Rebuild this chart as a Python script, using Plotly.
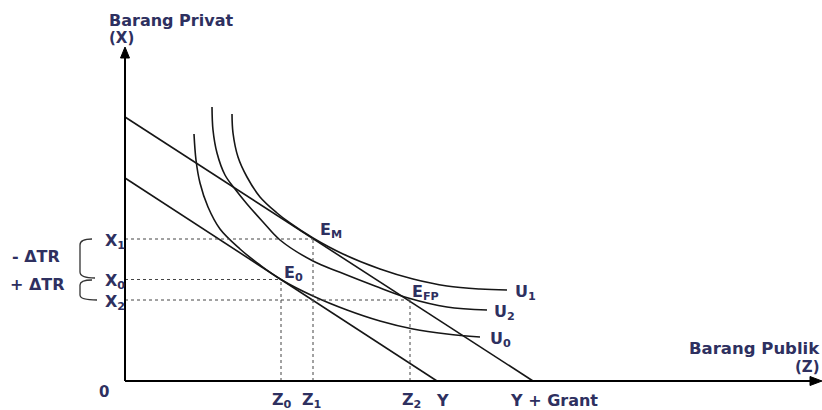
import plotly.graph_objects as go

# ---------------- data (Z = public good, X = private good) ----------------
budget_Y = {"z_int": 312, "x_int": 203}          # original budget line (income Y)
budget_grant = {"z_int": 408, "x_int": 264}      # budget line with grant (Y + Grant)

eq_names = ["E<sub>M</sub>", "E<sub>0</sub>", "E<sub>FP</sub>"]
eq_z = [188, 156, 285]
eq_x = [142, 101.5, 81]

z_ticks = [156, 188, 285, 312, 408]
z_tick_labels = ["Z<sub>0</sub>", "Z<sub>1</sub>", "Z<sub>2</sub>", "Y", "Y + Grant"]
x_ticks = [142, 101.5, 81]
x_tick_labels = ["X<sub>1</sub>", "X<sub>0</sub>", "X<sub>2</sub>"]

u0_z = [69, 71, 75, 83, 95, 115, 135, 156, 188, 222, 255, 288, 322, 355]
u0_x = [247, 221, 198, 174, 152, 132, 116, 101.5, 85, 71, 60, 52, 47, 44]
u2_z = [87, 88, 92, 100, 110, 122, 138, 155, 188, 215, 250, 285, 322, 362]
u2_x = [274, 251, 228, 206, 192, 177, 159, 141, 120, 108.7, 95, 82.4, 74, 71]
u1_z = [107, 108, 113, 122, 135, 152, 165, 188, 218, 255, 288, 322, 355, 382]
u1_x = [267, 248, 224, 204, 184, 168, 158, 143, 127, 112, 102, 95, 92, 91]
curve_names = ["U<sub>0</sub>", "U<sub>2</sub>", "U<sub>1</sub>"]

# ---------------- styles ----------------
TXT = "#2e3060"
FONT = "DejaVu Sans"
INK = "#161616"

fig = go.Figure()

# budget lines
for b in (budget_Y, budget_grant):
    fig.add_trace(go.Scatter(x=[0, b["z_int"]], y=[b["x_int"], 0], mode="lines",
                             line=dict(color=INK, width=1.6), hoverinfo="skip"))

# indifference curves
for zs, xs in ((u0_z, u0_x), (u2_z, u2_x), (u1_z, u1_x)):
    fig.add_trace(go.Scatter(x=zs, y=xs, mode="lines",
                             line=dict(color=INK, width=1.6, shape="spline", smoothing=1.0),
                             hoverinfo="skip"))

# dotted guide lines from equilibria to axes
for z, x in zip(eq_z, eq_x):
    fig.add_trace(go.Scatter(x=[0, z], y=[x, x], mode="lines",
                             line=dict(color="#444", width=1, dash="dot"), hoverinfo="skip"))
    fig.add_trace(go.Scatter(x=[z, z], y=[0, x], mode="lines",
                             line=dict(color="#444", width=1, dash="dot"), hoverinfo="skip"))

shapes = []
# axes
shapes.append(dict(type="line", x0=0, y0=0, x1=0, y1=325, line=dict(color="black", width=2)))
shapes.append(dict(type="line", x0=0, y0=0, x1=688, y1=0, line=dict(color="black", width=2)))
shapes.append(dict(type="path", path="M -4.5,323 L 0,334 L 4.5,323 Z",
                   fillcolor="black", line=dict(color="black", width=1)))
shapes.append(dict(type="path", path="M 685,4.5 L 697,0 L 685,-4.5 Z",
                   fillcolor="black", line=dict(color="black", width=1)))
# braces for ΔTR
shapes.append(dict(type="path", path="M -33,142 Q -45,142 -45,136 L -45,109 Q -45,103 -30,103",
                   line=dict(color="#333", width=1.3)))
shapes.append(dict(type="path", path="M -33,101 Q -45,101 -45,96 L -45,86 Q -45,81 -28,81",
                   line=dict(color="#333", width=1.3)))

ann = []
def text(x, y, s, size=16, xanchor="left", xshift=0, yshift=0):
    ann.append(dict(x=x, y=y, text="<b>" + s + "</b>", showarrow=False, xanchor=xanchor,
                    yanchor="middle", xshift=xshift, yshift=yshift,
                    font=dict(family=FONT, size=size, color=TXT)))

# axis titles
text(-18, 361, "Barang Privat", size=16)
text(-18, 343, "(X)", size=15)
text(697, 33, "Barang Publik", size=16.5, xanchor="right")
text(697, 14, "(Z)", size=15, xanchor="right")
text(-21, -11, "0", size=15, xanchor="center")

# Z tick labels
z_shift = [1, -1, 1, 5, 21]
for z, lab, dx in zip(z_ticks, z_tick_labels, z_shift):
    text(z, 0, lab, xanchor="center", xshift=dx, yshift=-19)

# X tick labels
for x, lab in zip(x_ticks, x_tick_labels):
    text(0, x, lab, xanchor="right", xshift=2, yshift=-2)

# ΔTR labels
text(-115, 125, "- ΔTR", size=16)
text(-117, 97, "+ ΔTR", size=16)

# equilibrium labels
eq_off = [(5, 9), (1, 6), (0, 8)]
for n, z, x, (dx, dy) in zip(eq_names, eq_z, eq_x, eq_off):
    text(z, x, n, xshift=dx, yshift=dy)

# curve labels
for n, zs, xs, dx in zip(curve_names, (u0_z, u2_z, u1_z), (u0_x, u2_x, u1_x), (8, 5, 6)):
    text(zs[-1], xs[-1], n, xshift=dx, yshift=-2)

fig.update_layout(
    width=822, height=410, autosize=False,
    margin=dict(l=0, r=0, t=0, b=0),
    paper_bgcolor="white", plot_bgcolor="white",
    showlegend=False,
    xaxis=dict(range=[-125, 697], visible=False, fixedrange=True),
    yaxis=dict(range=[-29, 381], visible=False, fixedrange=True),
    shapes=shapes, annotations=ann,
)

fig.write_html("out.html", config={"displayModeBar": False, "staticPlot": True},
               post_script="document.body.style.margin='0';document.body.style.padding='0';")
